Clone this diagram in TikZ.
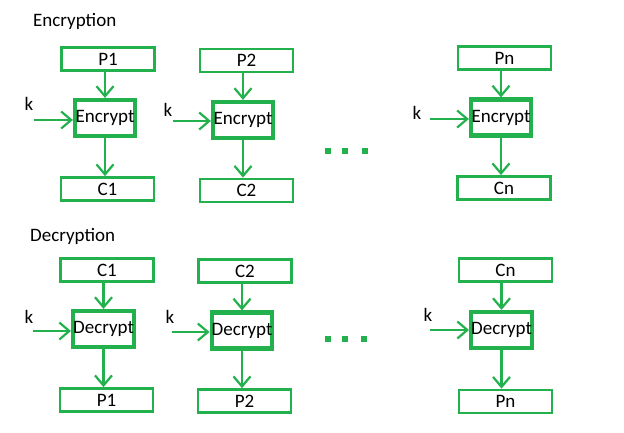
\documentclass[tikz,border=0pt]{standalone}
\usepackage{fontspec}
\setmainfont{Carlito}
\usetikzlibrary{arrows.meta}

\definecolor{boxgreen}{RGB}{34,177,76}

\tikzset{
  plainbox/.style={draw=boxgreen,line width=2.8pt,minimum width=93pt,minimum height=23pt,inner sep=0pt},
  cryptbox/.style={draw=boxgreen,line width=4.2pt,minimum width=60pt,minimum height=36pt,inner sep=0pt},
  flow/.style={draw=boxgreen,line width=2.2pt,-{Straight Barb[length=10pt,width=17pt,line width=2.2pt]}},
  dot/.style={fill=boxgreen,minimum size=6pt,inner sep=0pt},
  klabel/.style={inner sep=0pt}
}

\begin{document}
\begin{tikzpicture}[x=1pt,y=-1pt,font=\fontsize{19}{21}\selectfont]
\useasboundingbox (0,0) rectangle (624,432);

% encryption
\node[anchor=west,inner sep=0pt] (enctitle) at (33,21) {Encryption};

\node[plainbox] (encp1) at (108,59) {P1};
\node[cryptbox] (enc1) at (105,118) {Encrypt};
\node[plainbox] (encc1) at (107.5,189) {C1};
\node[klabel] (enck1) at (29,104) {k};
\coordinate (enckin1) at (34,120);

\node[plainbox] (encp2) at (246.5,60.5) {P2};
\node[cryptbox] (enc2) at (243,120) {Encrypt};
\node[plainbox] (encc2) at (246.5,190.5) {C2};
\node[klabel] (enck2) at (168,110) {k};
\coordinate (enckin2) at (173,121);

\node[plainbox] (encpn) at (504.5,58) {Pn};
\node[cryptbox] (encn) at (501,117.5) {Encrypt};
\node[plainbox] (enccn) at (504,188) {Cn};
\node[klabel] (enckn) at (417,113) {k};
\coordinate (enckinn) at (430,119);

\draw[flow] (enc1.north |- encp1.south) -- (enc1.north);
\draw[flow] (enc1.south) -- (enc1.south |- encc1.north);
\draw[flow] (enckin1) -- (enckin1 -| enc1.west);

\draw[flow] (enc2.north |- encp2.south) -- (enc2.north);
\draw[flow] (enc2.south) -- (enc2.south |- encc2.north);
\draw[flow] (enckin2) -- (enckin2 -| enc2.west);

\draw[flow] (encn.north |- encpn.south) -- (encn.north);
\draw[flow] (encn.south) -- (encn.south |- enccn.north);
\draw[flow] (enckinn) -- (enckinn -| encn.west);

\node[dot] (encdota) at (328,151) {};
\node[dot] (encdotb) at (345,151) {};
\node[dot] (encdotc) at (365,151) {};

% decryption
\node[anchor=west,inner sep=0pt] (dectitle) at (30,236) {Decryption};

\node[plainbox] (decc1) at (107,270) {C1};
\node[cryptbox] (dec1) at (103.5,329) {Decrypt};
\node[plainbox] (decp1) at (106.5,400) {P1};
\node[klabel] (deck1) at (29,317) {k};
\coordinate (deckin1) at (33,331);

\node[plainbox] (decc2) at (245,271) {C2};
\node[cryptbox] (dec2) at (242,330.5) {Decrypt};
\node[plainbox] (decp2) at (244.5,401) {P2};
\node[klabel] (deck2) at (170,317) {k};
\coordinate (deckin2) at (172,332);

\node[plainbox] (deccn) at (505.5,270) {Cn};
\node[cryptbox] (decn) at (501.5,330) {Decrypt};
\node[plainbox] (decpn) at (505.5,401.5) {Pn};
\node[klabel] (deckn) at (428,315) {k};
\coordinate (deckinn) at (430,330);

\draw[flow] (dec1.north |- decc1.south) -- (dec1.north);
\draw[flow] (dec1.south) -- (dec1.south |- decp1.north);
\draw[flow] (deckin1) -- (deckin1 -| dec1.west);

\draw[flow] (dec2.north |- decc2.south) -- (dec2.north);
\draw[flow] (dec2.south) -- (dec2.south |- decp2.north);
\draw[flow] (deckin2) -- (deckin2 -| dec2.west);

\draw[flow] (decn.north |- deccn.south) -- (decn.north);
\draw[flow] (decn.south) -- (decn.south |- decpn.north);
\draw[flow] (deckinn) -- (deckinn -| decn.west);

\node[dot] (decdota) at (328,339) {};
\node[dot] (decdotb) at (345,339) {};
\node[dot] (decdotc) at (364,339) {};

\end{tikzpicture}
\end{document}
